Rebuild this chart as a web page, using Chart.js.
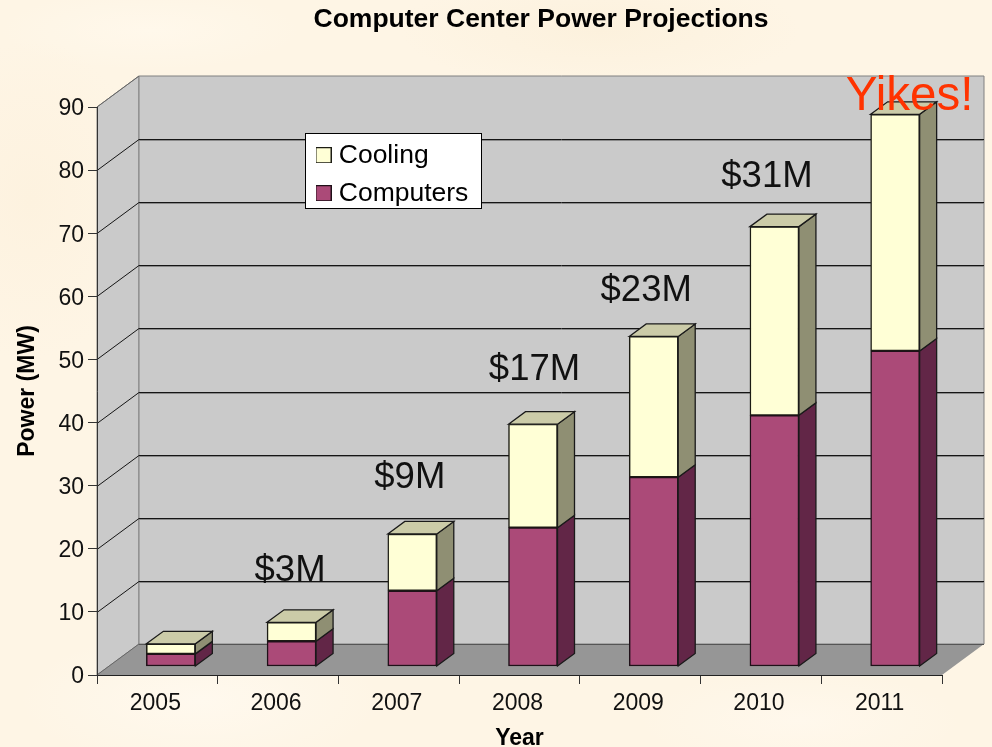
<!DOCTYPE html>
<html>
<head>
<meta charset="utf-8">
<script src="https://cdn.jsdelivr.net/npm/chart.js@4"></script>
<style>
html,body{margin:0;padding:0;width:992px;height:747px;overflow:hidden;background-color:#fef5e5;
background-image:radial-gradient(ellipse 180px 70px at 200px 700px,#fff9ee,transparent),radial-gradient(ellipse 200px 60px at 600px 30px,#fcf1dd,transparent),radial-gradient(ellipse 120px 160px at 30px 200px,#fdf2df,transparent),radial-gradient(ellipse 160px 50px at 800px 720px,#fff8ec,transparent),radial-gradient(ellipse 150px 40px at 150px 30px,#fff8eb,transparent);}
canvas{display:block}
</style>
</head>
<body>
<canvas id="c" width="992" height="747"></canvas>
<script>
const years = ['2005','2006','2007','2008','2009','2010','2011'];
const computers = [2, 4, 12, 22, 30, 39.8, 50];
const cooling = [1.6, 3, 9, 16.4, 22.3, 29.9, 37.5];
const costLabels = ['', '$3M', '$9M', '$17M', '$23M', '$31M', 'Yikes!'];

const FONT = '"Liberation Sans", Arial, sans-serif';
const WALL = {dx: 42, dy: -31};
const BAR_PLANE = {dx: 13.5, dy: -8.5};
const BAR_DEPTH = {dx: 17, dy: -12.5};
const costOffsets = [[0,0],[12,-28.5],[11,-33.5],[15,-31.5],[6,-22.5],[6,-27],[28,8]];

function poly(ctx, pts, fill, stroke, lw) {
  ctx.beginPath();
  pts.forEach((p, i) => i ? ctx.lineTo(p[0], p[1]) : ctx.moveTo(p[0], p[1]));
  ctx.closePath();
  if (fill) { ctx.fillStyle = fill; ctx.fill(); }
  if (stroke) { ctx.strokeStyle = stroke; ctx.lineWidth = lw || 1; ctx.stroke(); }
}

function swatch(fill, stroke) {
  const c = document.createElement('canvas');
  c.width = 16; c.height = 16;
  const g = c.getContext('2d');
  g.fillStyle = fill; g.fillRect(0, 0, 16, 16);
  g.strokeStyle = stroke; g.lineWidth = 1; g.strokeRect(0.5, 0.5, 15, 15);
  return c;
}

const scene3d = {
  id: 'scene3d',
  afterLayout(chart) {
    const lg = chart.legend;
    lg.left = 310; lg.top = 130.5; lg.right = lg.left + lg.width; lg.bottom = lg.top + lg.height;
    const t = chart.titleBlock;
    t.left = 90; t.right = 992;
  },
  beforeDraw(chart) {
    const ctx = chart.ctx, a = chart.chartArea, y = chart.scales.y;
    const L = a.left, R = a.right, T = a.top, B = a.bottom, dx = WALL.dx, dy = WALL.dy;
    ctx.save();
    poly(ctx, [[L,T],[L+dx,T+dy],[L+dx,B+dy],[L,B]], '#cacaca', '#808080');
    poly(ctx, [[L+dx,T+dy],[R+dx,T+dy],[R+dx,B+dy],[L+dx,B+dy]], '#cacaca', '#808080');
    poly(ctx, [[L,B],[R,B],[R+dx,B+dy],[L+dx,B+dy]], '#969696', null);
    ctx.lineWidth = 1;
    y.ticks.forEach(t => {
      if (t.value === 0 || t.value === 90) return;
      const p = Math.round(y.getPixelForValue(t.value)) + 0.5;
      ctx.strokeStyle = '#8a8a8a';
      ctx.beginPath(); ctx.moveTo(L+dx, p+dy+1); ctx.lineTo(R+dx, p+dy+1); ctx.stroke();
      ctx.strokeStyle = '#151515';
      ctx.beginPath();
      ctx.moveTo(L, p); ctx.lineTo(L+dx, p+dy); ctx.lineTo(R+dx, p+dy);
      ctx.stroke();
    });
    ctx.beginPath(); ctx.moveTo(L, T); ctx.lineTo(L+dx, T+dy); ctx.strokeStyle = '#666'; ctx.stroke();
    ctx.beginPath(); ctx.moveTo(L, B); ctx.lineTo(L+dx, B+dy); ctx.strokeStyle = '#666'; ctx.stroke();
    ctx.beginPath(); ctx.moveTo(L+dx, B+dy+0.5); ctx.lineTo(R+dx, B+dy+0.5); ctx.strokeStyle = '#555'; ctx.stroke();
    ctx.fillStyle = '#fff'; ctx.strokeStyle = '#000'; ctx.lineWidth = 1;
    ctx.fillRect(305.5, 133.5, 176, 75); ctx.strokeRect(305.5, 133.5, 176, 75);
    ctx.restore();
  },
  beforeDatasetsDraw(chart) {
    chart.ctx.save();
    chart.ctx.translate(BAR_PLANE.dx, BAR_PLANE.dy);
  },
  afterDatasetsDraw(chart) {
    const ctx = chart.ctx, dx = BAR_DEPTH.dx, dy = BAR_DEPTH.dy, edge = '#1a1a1a';
    chart.data.datasets.forEach((ds, di) => {
      chart.getDatasetMeta(di).data.forEach(el => {
        const r = el.x + el.width / 2, l = el.x - el.width / 2;
        poly(ctx, [[r,el.y],[r+dx,el.y+dy],[r+dx,el.base+dy],[r,el.base]], ds.sideColor, edge, 1.3);
        if (di === chart.data.datasets.length - 1)
          poly(ctx, [[l,el.y],[l+dx,el.y+dy],[r+dx,el.y+dy],[r,el.y]], ds.topColor, edge, 1.3);
      });
    });
    ctx.restore();
  },
  afterDraw(chart) {
    const ctx = chart.ctx, x = chart.scales.x, y = chart.scales.y;
    ctx.save();
    ctx.textAlign = 'center'; ctx.textBaseline = 'alphabetic';
    costLabels.forEach((txt, i) => {
      if (!txt) return;
      const total = computers[i] + cooling[i];
      const px = x.getPixelForValue(i) + costOffsets[i][0];
      const py = y.getPixelForValue(total) + BAR_PLANE.dy + BAR_DEPTH.dy + costOffsets[i][1];
      const yikes = txt === 'Yikes!';
      ctx.font = (yikes ? 47.5 : 36.5) + 'px ' + FONT;
      ctx.fillStyle = yikes ? '#ff3300' : '#111';
      ctx.fillText(txt, px, py);
    });
    ctx.restore();
  }
};

new Chart(document.getElementById('c'), {
  type: 'bar',
  data: {
    labels: years,
    datasets: [
      {label: 'Computers', data: computers, backgroundColor: '#ab4a78', borderColor: '#1f1018', borderWidth: 1.5, borderSkipped: false, barThickness: 49, clip: false, sideColor: '#622647', topColor: '#622647'},
      {label: 'Cooling', data: cooling, backgroundColor: '#ffffd6', borderColor: '#1c1c14', borderWidth: 1.5, borderSkipped: false, barThickness: 49, clip: false, sideColor: '#8f8f73', topColor: '#cbcba8'}
    ]
  },
  options: {
    responsive: false,
    animation: false,
    devicePixelRatio: 1,
    layout: {padding: {left: 0, right: 50, top: 0, bottom: 0}},
    plugins: {
      tooltip: {enabled: false},
      title: {display: true, text: 'Computer Center Power Projections', color: '#000',
        font: {family: FONT, size: 26.5, weight: 'bold'}, padding: {top: 4, bottom: 71.2}},
      legend: {display: true, position: 'chartArea', align: 'start', reverse: true,
        labels: {boxWidth: 16, boxHeight: 16, usePointStyle: true, pointStyleWidth: 4,
          padding: 11.5, color: '#000', font: {family: FONT, size: 26.5},
          generateLabels(chart) {
            const items = Chart.defaults.plugins.legend.labels.generateLabels(chart);
            items.forEach(it => { it.pointStyle = swatch(it.fillStyle, it.strokeStyle); });
            return items;
          }}}
    },
    scales: {
      x: {
        stacked: true,
        afterFit(s) { s.height = 72; },
        grid: {drawOnChartArea: false, drawTicks: true, tickLength: 9, color: '#333'},
        border: {display: true, color: '#222'},
        ticks: {color: '#111', padding: 6, labelOffset: -2, maxRotation: 0, font: {family: FONT, size: 23, lineHeight: 1.2}},
        title: {display: true, text: 'Year', color: '#000', padding: {top: 0, bottom: -3.5},
          font: {family: FONT, size: 23, weight: 'bold', lineHeight: 1}}
      },
      y: {
        stacked: true, min: 0, max: 90,
        afterFit(s) { s.width = 97; },
        grid: {drawOnChartArea: false, drawTicks: true, tickLength: 9, color: '#333'},
        border: {display: true, color: '#333'},
        ticks: {stepSize: 10, color: '#111', padding: 4, labelOffset: 2, font: {family: FONT, size: 23}},
        title: {display: true, text: 'Power (MW)', color: '#000', padding: {top: 16.5, bottom: 0},
          font: {family: FONT, size: 23, weight: 'bold', lineHeight: 1}}
      }
    }
  },
  plugins: [scene3d]
});
</script>
</body>
</html>
